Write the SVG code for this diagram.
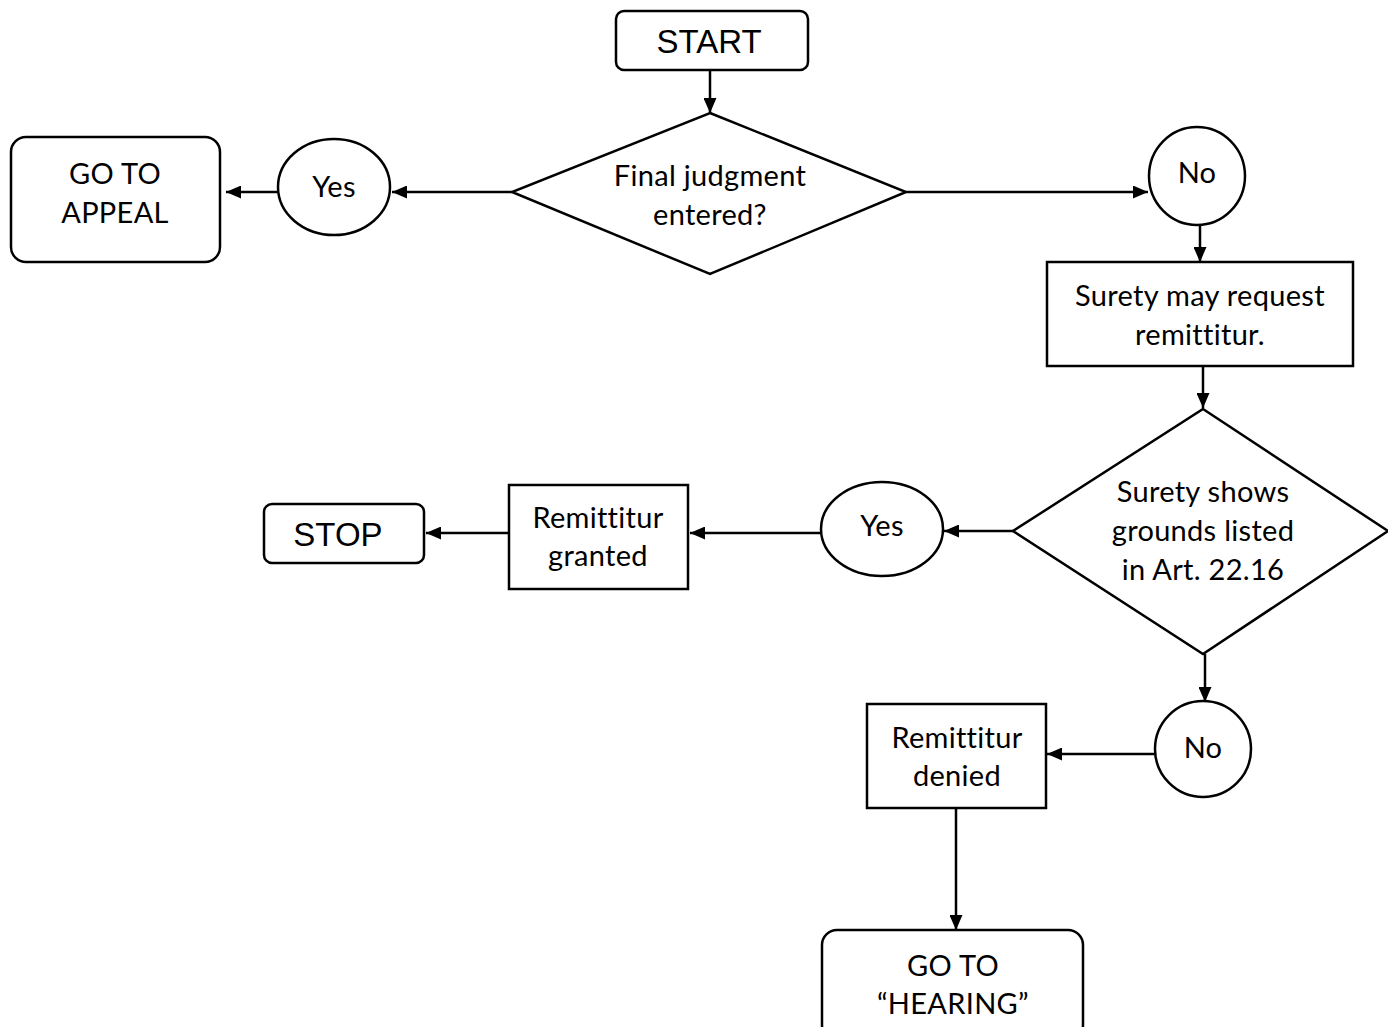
<svg xmlns="http://www.w3.org/2000/svg" width="1388" height="1027" viewBox="0 0 1388 1027">
<defs>
<marker id="ah" markerWidth="15" markerHeight="13" refX="15" refY="6.5" orient="auto" markerUnits="userSpaceOnUse">
<path d="M0,0 L15,6.5 L0,13 Z" fill="#000"/>
</marker>
<style>
.s{fill:#fff;stroke:#000;stroke-width:2.5}
.c line{stroke:#000;stroke-width:2.5;marker-end:url(#ah)}
.t{font-family:Lato,"Open Sans",sans-serif;font-size:29px;letter-spacing:0.3px;fill:#000;text-anchor:middle;dominant-baseline:central}
.a{font-family:"Liberation Sans",Arial,sans-serif;font-size:33px;fill:#000;text-anchor:middle;dominant-baseline:central}
</style>
</defs>
<rect width="1388" height="1027" fill="#fff"/>
<g class="c" id="connectors">
<line x1="710" y1="70" x2="710" y2="113"/>
<line x1="512" y1="192" x2="392" y2="192"/>
<line x1="278" y1="192" x2="226" y2="192"/>
<line x1="906" y1="192" x2="1148" y2="192"/>
<line x1="1200" y1="224" x2="1200" y2="262"/>
<line x1="1203" y1="366" x2="1203" y2="408"/>
<line x1="1013" y1="531" x2="944" y2="531"/>
<line x1="821" y1="533" x2="690" y2="533"/>
<line x1="509" y1="533" x2="426" y2="533"/>
<line x1="1205" y1="654" x2="1205" y2="702"/>
<line x1="1155" y1="754" x2="1047" y2="754"/>
<line x1="956" y1="808" x2="956" y2="930"/>
</g>
<g id="start"><rect class="s" x="616" y="11" width="192" height="59" rx="8"/><text class="a" x="709" y="41">START</text></g>
<g id="d1"><polygon class="s" points="710,113 906,192 710,274 512,192"/><text class="t" x="710" y="174">Final judgment</text><text class="t" x="710" y="213">entered?</text></g>
<g id="yes1"><ellipse class="s" cx="334" cy="187" rx="56" ry="48"/><text class="t" x="334" y="185">Yes</text></g>
<g id="appeal"><rect class="s" x="11" y="137" width="209" height="125" rx="15"/><text class="t" x="115" y="172">GO TO</text><text class="t" x="115" y="211">APPEAL</text></g>
<g id="no1"><ellipse class="s" cx="1197" cy="176" rx="48" ry="49"/><text class="t" x="1197" y="171">No</text></g>
<g id="request"><rect class="s" x="1047" y="262" width="306" height="104"/><text class="t" x="1200" y="294">Surety may request</text><text class="t" x="1200" y="333">remittitur.</text></g>
<g id="d2"><polygon class="s" points="1203,409 1388,531 1203,654 1013,531"/><text class="t" x="1203" y="490">Surety shows</text><text class="t" x="1203" y="529">grounds listed</text><text class="t" x="1203" y="568">in Art. 22.16</text></g>
<g id="yes2"><ellipse class="s" cx="882" cy="529" rx="61" ry="47"/><text class="t" x="882" y="524">Yes</text></g>
<g id="granted"><rect class="s" x="509" y="485" width="179" height="104"/><text class="t" x="598" y="516">Remittitur</text><text class="t" x="598" y="554">granted</text></g>
<g id="stop"><rect class="s" x="264" y="504" width="160" height="59" rx="8"/><text class="a" x="338" y="534">STOP</text></g>
<g id="no2"><ellipse class="s" cx="1203" cy="749" rx="48" ry="48"/><text class="t" x="1203" y="746">No</text></g>
<g id="denied"><rect class="s" x="867" y="704" width="179" height="104"/><text class="t" x="957" y="736">Remittitur</text><text class="t" x="957" y="774">denied</text></g>
<g id="hearing"><rect class="s" x="822" y="930" width="261" height="110" rx="15"/><text class="t" x="953" y="964">GO TO</text><text class="t" x="953" y="1002">“HEARING”</text></g>
</svg>
